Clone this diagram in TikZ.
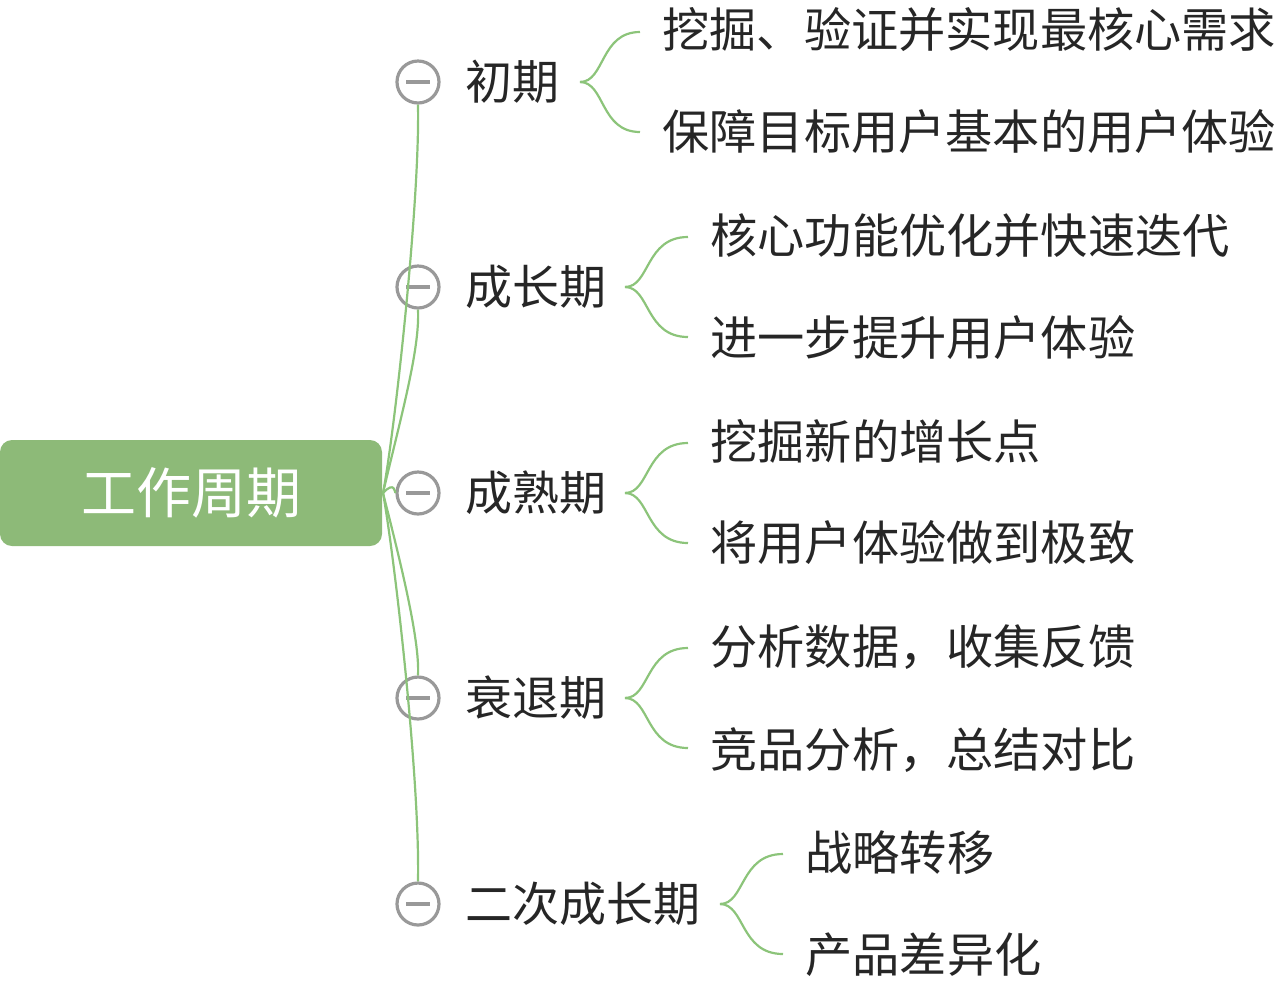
\documentclass[tikz,border=0pt]{standalone}
\usepackage{fontspec}
\newfontfamily\cjk{Noto Sans CJK SC}
\begin{document}
\begin{tikzpicture}[x=0.5pt,y=-0.5pt,
  fold/.style={circle, draw=gray!80, fill=white, line width=1.6pt, minimum size=21pt, inner sep=0pt},
  branch/.style={anchor=west, font=\cjk\fontsize{23.5}{26}\selectfont, text=black!85, inner sep=0pt},
  leaf/.style={anchor=west, font=\cjk\fontsize{23.6}{26}\selectfont, text=black!85, inner sep=0pt}]
\useasboundingbox (0,0) rectangle (1280,982);
\definecolor{rootg}{HTML}{8DBA78}
\definecolor{lg}{HTML}{8CC47A}
\tikzset{link/.style={draw=lg, line width=1.1pt}}
\node[fill=rootg, rounded corners=6pt, minimum width=191pt, minimum height=53pt, inner sep=0pt,
  text=white, font=\cjk\fontsize{27.5}{30}\selectfont] (root) at (191,493) {工作周期};
\coordinate (r) at (383,493);
\foreach \n/\y in {a/82,b/287,c/493,d/698,e/904}{
  \node[fold] (f\n) at (418,\y) {};
  \draw[gray!80, line width=1.6pt] ([xshift=-6pt]f\n.center) -- ([xshift=6pt]f\n.center);
}
\draw[link] (r) .. controls (395,430) and (420,200) .. (fa.south);
\draw[link] (r) .. controls (400,420) and (420,350) .. (fb.south);
\draw[link] (r) .. controls (395,480) and (395,493) .. (fc.west);
\draw[link] (r) .. controls (400,560) and (420,640) .. (fd.north);
\draw[link] (r) .. controls (395,560) and (420,780) .. (fe.north);
\node[branch] (ba) at (465,82) {初期};
\node[branch] (bb) at (465,287) {成长期};
\node[branch] (bc) at (465,493) {成熟期};
\node[branch] (bd) at (465,698) {衰退期};
\node[branch] (be) at (465,904) {二次成长期};
\foreach \b/\x/\y/\w in {ba/580/82/60, bb/625/287/63, bc/625/493/63, bd/625/698/63, be/720/904/63}{
  \coordinate (s\b) at (\x,\y);
  \draw[link] (s\b) .. controls (\x+25,\y) and (\x+20,\y-50) .. (\x+\w,\y-50);
  \draw[link] (s\b) .. controls (\x+25,\y) and (\x+20,\y+50) .. (\x+\w,\y+50);
}
\node[leaf] (l1) at (662,30) {挖掘、验证并实现最核心需求};
\node[leaf] (l2) at (662,132) {保障目标用户基本的用户体验};
\node[leaf] (l3) at (710,236) {核心功能优化并快速迭代};
\node[leaf] (l4) at (710,338) {进一步提升用户体验};
\node[leaf] (l5) at (710,441) {挖掘新的增长点};
\node[leaf] (l6) at (710,543) {将用户体验做到极致};
\node[leaf] (l7) at (710,647) {分析数据，收集反馈};
\node[leaf] (l8) at (710,750) {竞品分析，总结对比};
\node[leaf] (l9) at (805,853) {战略转移};
\node[leaf] (l10) at (805,955) {产品差异化};
\end{tikzpicture}
\end{document}
